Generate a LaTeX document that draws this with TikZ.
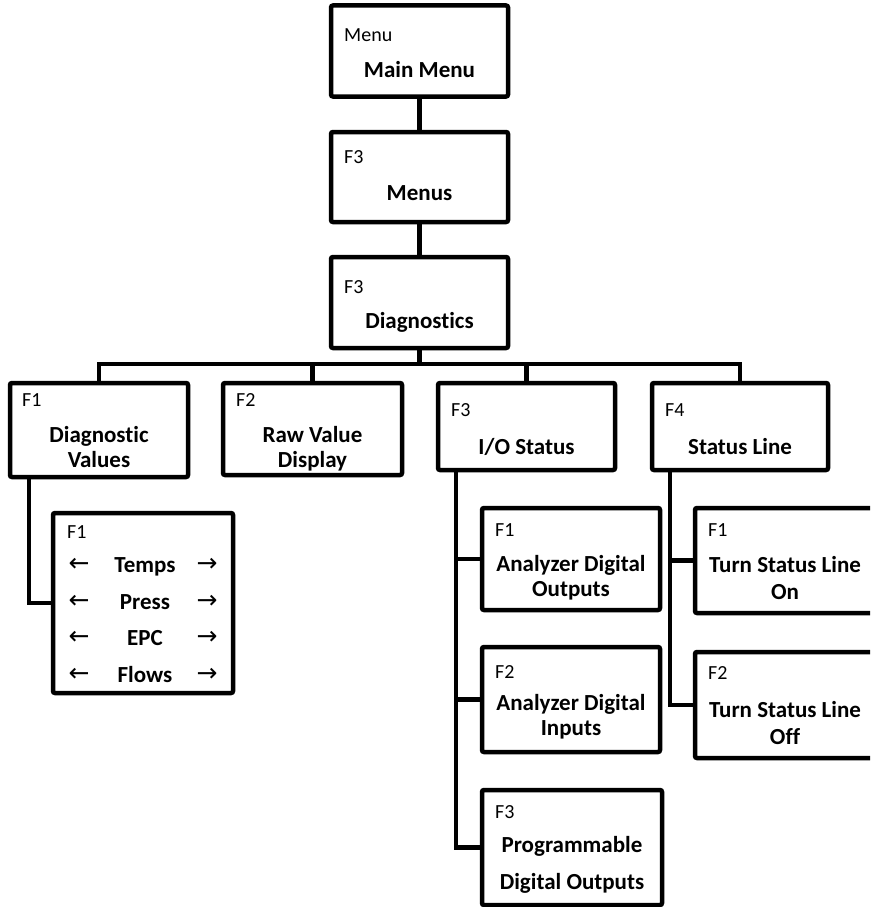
\documentclass[tikz,border=0pt]{standalone}
\usepackage{fontspec}
\setmainfont{Carlito}[RawFeature={-liga;-clig;-dlig;-calt}]
\newfontfamily\arrowfont{DejaVu Sans}
\tikzset{
  menubox/.style={draw, line width=4.5pt, rounded corners=2pt, inner sep=0pt},
  keytext/.style={anchor=west, inner sep=0pt, font=\fontsize{20}{24}\selectfont},
  titletext/.style={align=center, inner sep=0pt, font=\fontsize{23}{25}\selectfont\bfseries},
  arrowtext/.style={inner sep=0pt, font=\fontsize{25}{28}\arrowfont},
  link/.style={line width=4.5pt}
}
\begin{document}
\begin{tikzpicture}[x=1pt,y=-1pt]
\useasboundingbox (0,0) rectangle (870,907);
\clip (0,0) rectangle (870,907);

% top chain
\node[menubox, minimum width=177pt, minimum height=91pt] (main) at (419.5,51) {};
\node[menubox, minimum width=177pt, minimum height=90pt] (menus) at (419.5,177) {};
\node[menubox, minimum width=177pt, minimum height=91pt] (diagn) at (419.5,302.5) {};

% second row
\node[menubox, minimum width=178pt, minimum height=94pt] (dv) at (99,430) {};
\node[menubox, minimum width=179pt, minimum height=92pt] (rv) at (312.5,429) {};
\node[menubox, minimum width=177pt, minimum height=87pt] (io) at (526.5,426.5) {};
\node[menubox, minimum width=176pt, minimum height=87pt] (sl) at (740,426.5) {};

% third row
\node[menubox, minimum width=180pt, minimum height=180pt] (temps) at (143,603) {};
\node[menubox, minimum width=178pt, minimum height=102pt] (ado) at (571,559) {};
\node[menubox, minimum width=178pt, minimum height=105pt] (adi) at (571,699.5) {};
\node[menubox, minimum width=180pt, minimum height=115pt] (prog) at (572,847.5) {};
\node[menubox, minimum width=210pt, minimum height=105pt] (tso) at (800,560.5) {};
\node[menubox, minimum width=210pt, minimum height=106pt] (tsf) at (800,705) {};

% keys
\node[keytext] (maink) at (344,35) {Menu};
\node[keytext] (menusk) at (344,157) {F3};
\node[keytext] (diagnk) at (344,287) {F3};
\node[keytext] (dvk) at (22,400) {F1};
\node[keytext] (rvk) at (236,400) {F2};
\node[keytext] (iok) at (451,410) {F3};
\node[keytext] (slk) at (665,410) {F4};
\node[keytext] (tempsk) at (67,532) {F1};
\node[keytext] (adok) at (495,530) {F1};
\node[keytext] (adik) at (495,672) {F2};
\node[keytext] (progk) at (495,812) {F3};
\node[keytext] (tsok) at (708,530) {F1};
\node[keytext] (tsfk) at (708,673) {F2};

% titles
\node[titletext] (maint) at (419.5,70) {Main Menu};
\node[titletext] (menust) at (419.5,193) {Menus};
\node[titletext] (diagnt) at (419.5,322) {Diagnostics};
\node[titletext] (dvt) at (99,447) {Diagnostic\\Values};
\node[titletext] (rvt) at (312.5,449) {Raw Value\\Display};
\node[titletext] (iot) at (526.5,447) {I/O Status};
\node[titletext] (slt) at (740,447) {Status Line};
\node[titletext] (adot) at (571,578) {Analyzer Digital\\Outputs};
\node[titletext] (adit) at (571,717) {Analyzer Digital\\Inputs};
\node[titletext] (progt) at (572,865) {Programmable\\[12pt]Digital Outputs};
\node[titletext] (tsot) at (785,578) {Turn Status Line\\[2pt]On};
\node[titletext] (tsft) at (785,723) {Turn Status Line\\[2pt]Off};

% temps rows
\node[arrowtext] (la1) at (79,565) {←};
\node[titletext] (row1) at (145,567) {Temps};
\node[arrowtext] (ra1) at (207,565) {→};
\node[arrowtext] (la2) at (79,602) {←};
\node[titletext] (row2) at (145,602) {Press};
\node[arrowtext] (ra2) at (207,602) {→};
\node[arrowtext] (la3) at (79,638) {←};
\node[titletext] (row3) at (145,638) {EPC};
\node[arrowtext] (ra3) at (207,638) {→};
\node[arrowtext] (la4) at (79,675) {←};
\node[titletext] (row4) at (145,675) {Flows};
\node[arrowtext] (ra4) at (207,675) {→};

% connectors
\draw[link] (main.south) -- (menus.north);
\draw[link] (menus.south) -- (diagn.north);
\coordinate (bus) at (419.5,364);
\draw[link] (diagn.south) -- (bus);
\draw[link] (dv.north) |- (bus) -| (sl.north);
\draw[link] (rv.north) -- (rv.north |- bus);
\draw[link] (io.north) -- (io.north |- bus);

\coordinate (dvleg) at ([xshift=21pt]dv.south west);
\draw[link] (dvleg) |- (temps.west);

\coordinate (ioleg) at ([xshift=20pt]io.south west);
\draw[link] (ioleg) |- (prog.west);
\draw[link] (ado.west) -- (ado.west -| ioleg);
\draw[link] (adi.west) -- (adi.west -| ioleg);

\coordinate (slleg) at ([xshift=20pt]sl.south west);
\draw[link] (slleg) |- (tsf.west);
\draw[link] (tso.west) -- (tso.west -| slleg);

\end{tikzpicture}
\end{document}
